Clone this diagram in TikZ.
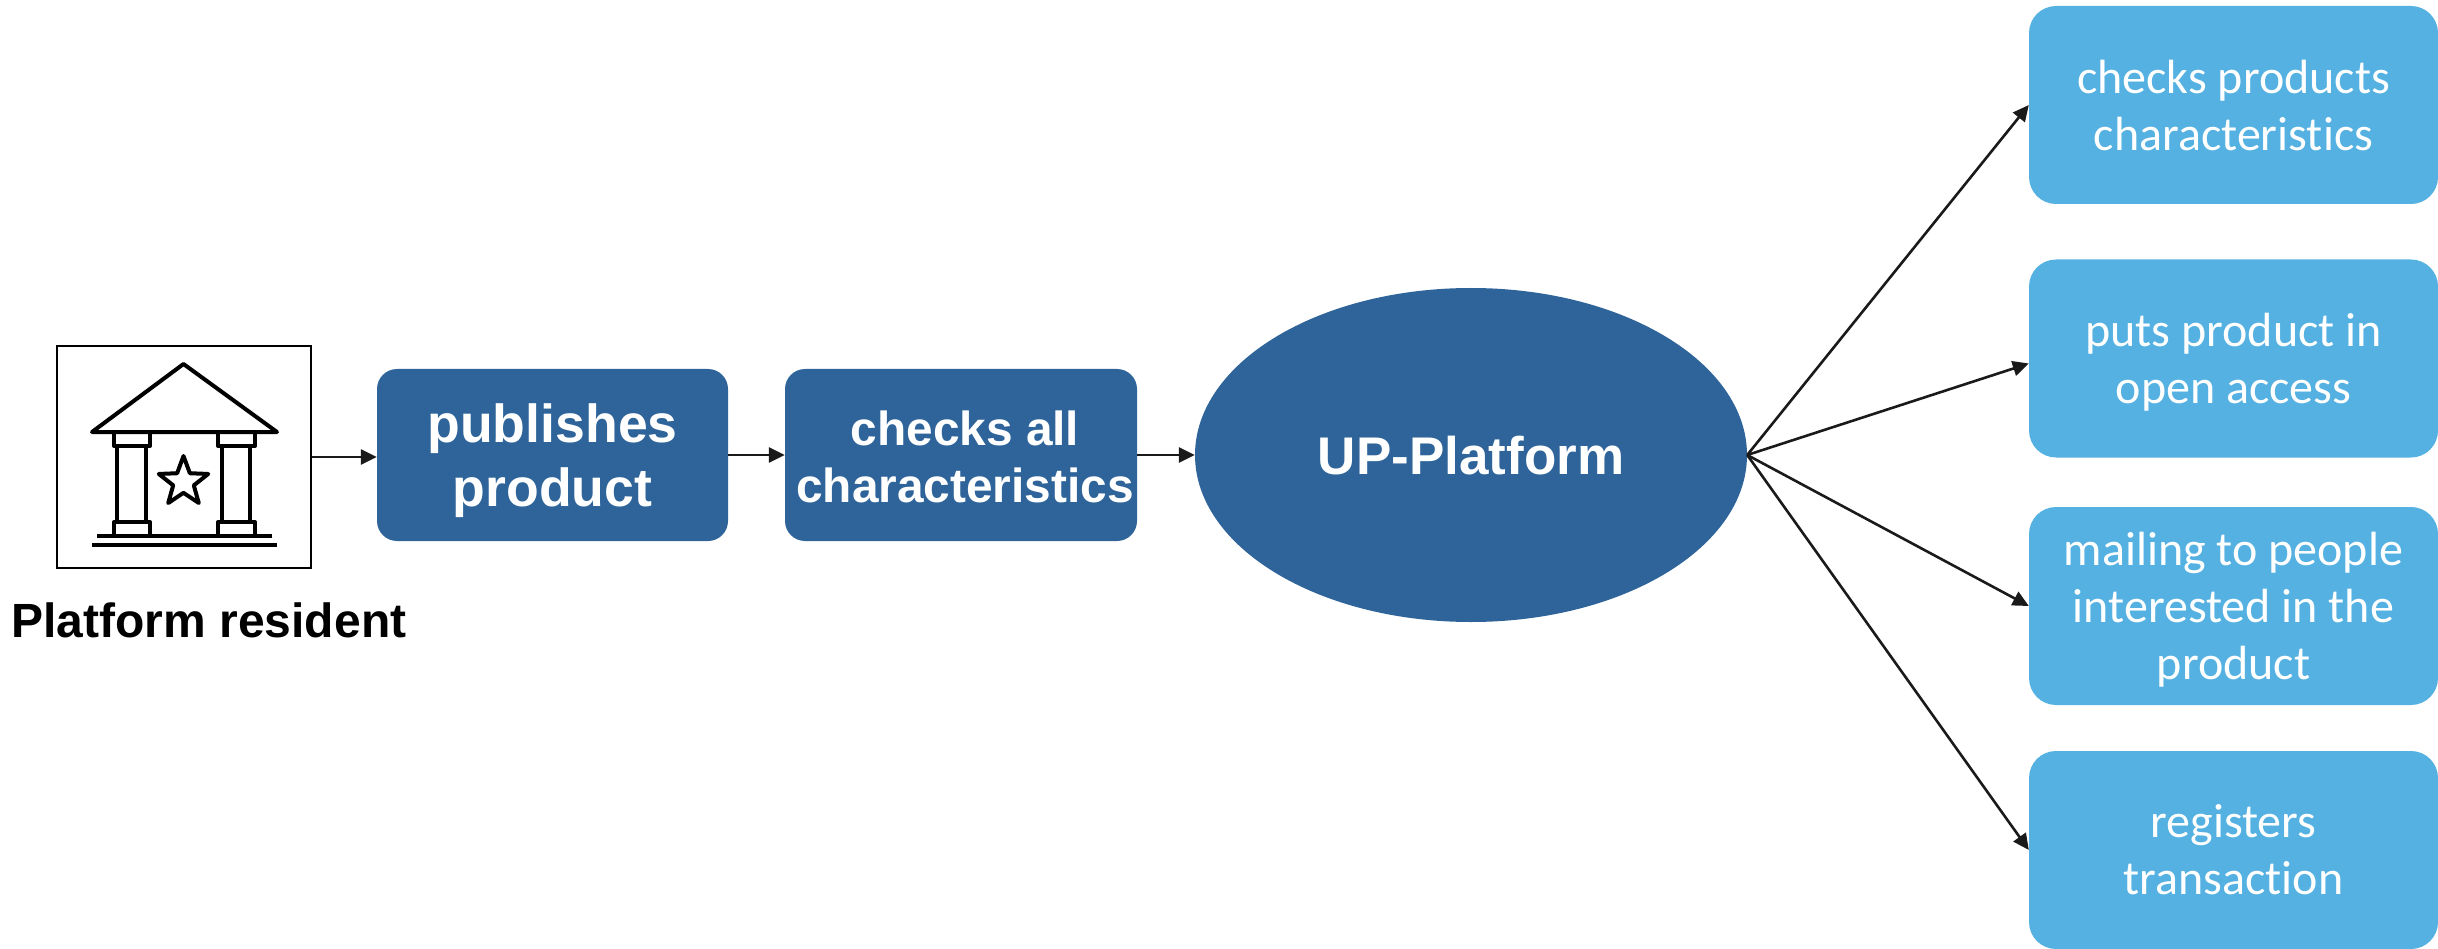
\documentclass[tikz,border=0pt]{standalone}
\usepackage{fontspec}
\setmainfont{Liberation Sans}
\newfontfamily\carlitofont[Ligatures=NoCommon,Contextuals=NoAlternate]{Carlito}
\usetikzlibrary{arrows.meta,shapes.geometric}
\definecolor{darkblue}{HTML}{2E6499}
\definecolor{lightblue}{HTML}{54B1E1}
\definecolor{linecol}{HTML}{1A1A1A}
\tikzset{
  dbox/.style={fill=darkblue,rounded corners=20pt,inner sep=0pt,minimum height=172pt},
  lbox/.style={fill=lightblue,rounded corners=27pt,inner sep=0pt,minimum width=409pt,minimum height=198pt},
  dtext/.style={text=white,align=center,inner sep=0pt},
  ltext/.style={text=white,align=center,inner sep=0pt,font=\carlitofont\fontsize{48}{57}\selectfont},
  conn/.style={draw=linecol,line width=2.6pt,-{Triangle[length=16pt,width=15pt]}},
  icon/.style={draw=black,line width=4pt,line join=round},
}
\begin{document}
\begin{tikzpicture}[x=1pt,y=-1pt]
\useasboundingbox (0,0) rectangle (2438,949);
\node[draw=black,line width=2pt,fill=white,minimum width=254pt,minimum height=222pt,inner sep=0pt] (res) at (184,457) {};
\draw[icon] (92,432) -- (183.5,364) -- (277,432) -- cycle;
\draw[icon] (114,432) rectangle (150,446);
\draw[icon] (117,446) -- (117,522) (146,446) -- (146,522);
\draw[icon] (114,522) rectangle (150,536);
\draw[icon] (218,432) rectangle (255,446);
\draw[icon] (222,446) -- (222,522) (250,446) -- (250,522);
\draw[icon] (218,522) rectangle (255,536);
\draw[icon] (97,536) -- (272,536);
\draw[icon] (92,545) -- (277,545);
\node[star,star points=5,star point ratio=2.4,draw=black,line width=4pt,line join=round,minimum size=52pt,inner sep=0pt] (st) at (183.5,482) {};
\node[anchor=base,font=\bfseries\fontsize{48}{50}\selectfont,inner sep=0pt] (lab) at (209,637) {Platform resident};
\node[dbox,minimum width=351pt] (pub) at (552.5,455) {};
\node[dtext,font=\bfseries\fontsize{53.6}{64}\selectfont] (pubt) at (552.5,461) {publishes\\product};
\node[dbox,minimum width=352pt] (chk) at (961,455) {};
\node[dtext,font=\bfseries\fontsize{47.8}{57}\selectfont] (chkt) at (965,457) {checks all\\characteristics};
\node[ellipse,fill=darkblue,minimum width=552pt,minimum height=334pt,inner sep=0pt] (up) at (1471,455) {};
\node[dtext,font=\bfseries\fontsize{53}{60}\selectfont] (upt) at (1471,456) {UP-Platform};
\node[lbox] (r1) at (2233.5,105) {};
\node[ltext] (r1t) at (2233.5,106) {checks products\\characteristics};
\node[lbox] (r2) at (2233.5,358.5) {};
\node[ltext] (r2t) at (2233.5,362) {puts product in\\open access};
\node[lbox] (r3) at (2233.5,606) {};
\node[ltext] (r3t) at (2233.5,610) {mailing to people\\interested in the\\product};
\node[lbox] (r4) at (2233.5,850) {};
\node[ltext] (r4t) at (2233.5,850) {registers\\transaction};
\draw[conn] (res.east) -- (res.east -| pub.west);
\draw[conn] (pub.east) -- (chk.west);
\draw[conn] (chk.east) -- (up.west);
\draw[conn] (up.east) -- (r1.west);
\draw[conn] (up.east) -- ([yshift=-5pt]r2.west);
\draw[conn] (up.east) -- (r3.west);
\draw[conn] (up.east) -- (r4.west);
\end{tikzpicture}
\end{document}
